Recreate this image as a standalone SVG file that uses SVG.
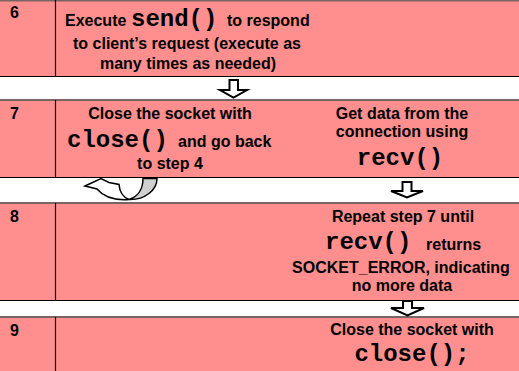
<svg xmlns="http://www.w3.org/2000/svg" width="519" height="371" viewBox="0 0 519 371">
<style>
.row{fill:#FF8F8F;}
.top{stroke:#7a6464;stroke-width:2;fill:none;}
.bot{stroke:#000;stroke-width:1.2;fill:none;}
.col{stroke:#000;stroke-width:1.2;}
.t{font-family:"Liberation Sans",Arial,sans-serif;font-weight:bold;font-size:16px;fill:#000;}
.m{font-family:"Liberation Mono","Courier New",monospace;font-weight:bold;font-size:24px;fill:#000;}
.c{text-anchor:middle;}
.arr{fill:#fff;stroke:#000;stroke-width:2;stroke-linejoin:miter;}
</style>
<rect x="0" y="0" width="519" height="371" fill="#fff"/>

<g id="row6">
<rect class="row" x="0" y="0" width="519" height="76"/>
<line class="top" x1="0" y1="0.5" x2="519" y2="0.5"/>
<line class="bot" x1="0" y1="76.5" x2="519" y2="76.5"/>
<line class="col" x1="55.5" y1="0" x2="55.5" y2="76"/>
<text class="t" x="10" y="18">6</text>
<text class="t" x="65" y="26">Execute</text>
<text class="m" x="131" y="26">send()</text>
<text class="t" x="227" y="26">to respond</text>
<text class="t c" x="187" y="49">to client’s request (execute as</text>
<text class="t c" x="188" y="69">many times as needed)</text>
</g>

<g id="row7">
<rect class="row" x="0" y="100" width="519" height="77"/>
<line class="top" x1="0" y1="100" x2="519" y2="100"/>
<line class="bot" x1="0" y1="177.5" x2="519" y2="177.5"/>
<line class="col" x1="55.5" y1="100" x2="55.5" y2="177"/>
<text class="t" x="10" y="119">7</text>
<text class="t c" x="170" y="119">Close the socket with</text>
<text class="m" x="67" y="147">close()</text>
<text class="t" x="178" y="147">and go back</text>
<text class="t c" x="170" y="169">to step 4</text>
<text class="t c" x="402" y="119">Get data from the</text>
<text class="t c" x="402" y="137">connection using</text>
<text class="m c" x="400" y="165">recv()</text>
</g>

<g id="row8">
<rect class="row" x="0" y="203" width="519" height="97"/>
<line class="top" x1="0" y1="203" x2="519" y2="203"/>
<line class="bot" x1="0" y1="300.5" x2="519" y2="300.5"/>
<line class="col" x1="55.5" y1="203" x2="55.5" y2="300"/>
<text class="t" x="10" y="222">8</text>
<text class="t c" x="403" y="222">Repeat step 7 until</text>
<text class="m" x="325" y="249">recv()</text>
<text class="t" x="426" y="250">returns</text>
<text class="t c" x="401" y="273">SOCKET_ERROR, indicating</text>
<text class="t c" x="402" y="291">no more data</text>
</g>

<g id="row9">
<rect class="row" x="0" y="317" width="519" height="54"/>
<line class="top" x1="0" y1="317" x2="519" y2="317"/>
<line class="col" x1="55.5" y1="317" x2="55.5" y2="371"/>
<text class="t" x="10" y="336">9</text>
<text class="t c" x="412" y="335">Close the socket with</text>
<text class="m c" x="412" y="361">close();</text>
</g>

<g id="connectors">
<polygon class="arr" points="229.5,80 238,80 238,90 247,90 233.5,97.5 220,90 229.5,90"/>
<polygon class="arr" points="402.5,182 411.5,182 411.5,191 423,191 407,197.5 391,191 402.5,191"/>
<polygon class="arr" points="403,301 412,301 412,308 424,308 407.5,315.5 391,308 403,308"/>
<g id="loop-arrow">
<path d="M129,199.5 C145,200 157,190 157,178.5 L143,178.5 C143,190 137,197 129,199.5 Z" fill="#d0d0d0" stroke="#000" stroke-width="1.5"/>
<path d="M85,186 L101,178.5 L109,182.5 L119,184.5 Q120,196 129,199.5 Q107,201 97,189 Z" fill="#fff" stroke="#000" stroke-width="1.5" stroke-linejoin="miter"/>
</g>
</g>
</svg>
